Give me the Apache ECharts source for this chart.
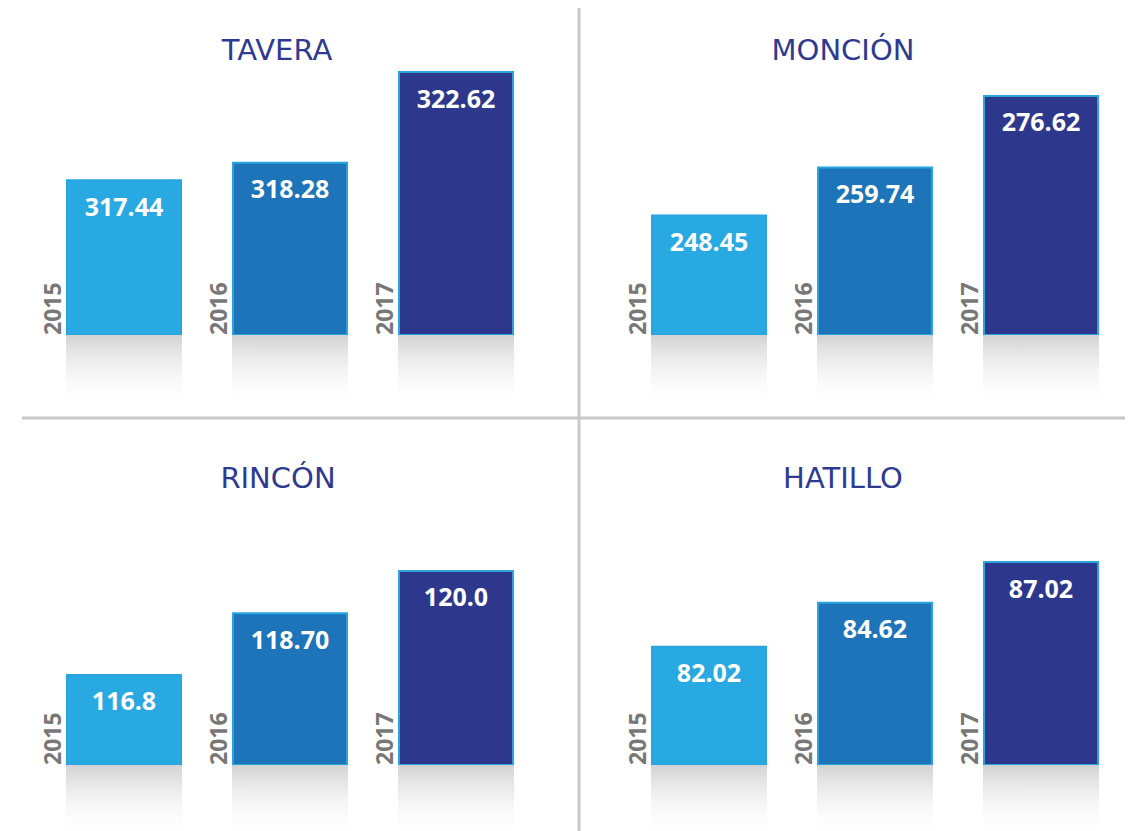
<!DOCTYPE html>
<html>
<head>
<meta charset="utf-8">
<script src="https://cdn.jsdelivr.net/npm/echarts@6/dist/echarts.min.js"></script>
<style>
html,body{margin:0;padding:0;background:#fff;}
#c{width:1128px;height:831px;}
</style>
</head>
<body>
<div id="c"></div>
<script>
const years = ['2015', '2016', '2017'];
const panelTitles = ['TAVERA', 'MONCIÓN', 'RINCÓN', 'HATILLO'];

const taveraValues = [317.44, 318.28, 322.62];
const taveraLabels = ['317.44', '318.28', '322.62'];
const moncionValues = [248.45, 259.74, 276.62];
const moncionLabels = ['248.45', '259.74', '276.62'];
const rinconValues = [116.8, 118.70, 120.0];
const rinconLabels = ['116.8', '118.70', '120.0'];
const hatilloValues = [82.02, 84.62, 87.02];
const hatilloLabels = ['82.02', '84.62', '87.02'];

const seriesValues = [taveraValues, moncionValues, rinconValues, hatilloValues];
const seriesLabels = [taveraLabels, moncionLabels, rinconLabels, hatilloLabels];

// layout / axis ranges (not data)
const layout = [
  { left: 40,  top: 55,  min: 310, max: 323.385, titleX: 277, titleY: 50 },
  { left: 625, top: 55,  min: 220, max: 286.05,  titleX: 843, titleY: 50 },
  { left: 40,  top: 485, min: 114, max: 122.615, titleX: 278, titleY: 478 },
  { left: 625, top: 485, min: 75,  max: 91.5,    titleX: 843, titleY: 478 }
];
const GW = 498, GH = 280, RH = 72;
const barColors = ['#28a9e1', '#1d74b9', '#2d388d'];
const titleColor = '#2e3a90';

const grids = [], xAxes = [], yAxes = [], series = [], graphics = [];

layout.forEach((p, i) => {
  const gi = grids.length;
  grids.push({ left: p.left + 1, top: p.top, width: GW, height: GH, outerBoundsMode: 'none' });
  grids.push({ left: p.left + 1, top: p.top + GH, width: GW, height: RH, outerBoundsMode: 'none' });
  xAxes.push({ type: 'category', gridIndex: gi, data: years, show: false });
  xAxes.push({ type: 'category', gridIndex: gi + 1, data: years, show: false });
  yAxes.push({ type: 'value', gridIndex: gi, min: p.min, max: p.max, show: false });
  yAxes.push({ type: 'value', gridIndex: gi + 1, min: 0, max: 1, inverse: true, show: false });

  const vals = seriesValues[i];
  const labs = seriesLabels[i];

  // main bars with value labels
  series.push({
    type: 'bar', xAxisIndex: gi, yAxisIndex: gi, barWidth: 116, barGap: '-100%',
    silent: true, animation: false,
    data: vals.map((v, k) => ({
      value: v,
      itemStyle: { color: barColors[k], borderColor: '#2aa4de', borderWidth: 2 }
    })),
    label: {
      show: true, position: 'insideTop', distance: 14,
      formatter: (d) => labs[d.dataIndex],
      color: '#ffffff', fontSize: 25, fontWeight: 'bold', fontFamily: 'Open Sans'
    }
  });
  // overlay series carrying the rotated year labels
  series.push({
    type: 'bar', xAxisIndex: gi, yAxisIndex: gi, barWidth: 116, barGap: '-100%',
    silent: true, animation: false,
    data: vals.slice(),
    itemStyle: { color: 'rgba(0,0,0,0)' },
    label: {
      show: true, position: [-14, '100%'], rotate: 90,
      align: 'left', verticalAlign: 'middle',
      formatter: '{b}', color: '#777777', fontSize: 23, fontWeight: 'bold', fontFamily: 'Open Sans'
    }
  });
  // reflection shadow under each bar
  series.push({
    type: 'bar', xAxisIndex: gi + 1, yAxisIndex: gi + 1, barWidth: 116,
    silent: true, animation: false,
    data: vals.map(() => 1),
    itemStyle: {
      color: { type: 'linear', x: 0, y: 0, x2: 0, y2: 1,
        colorStops: [{ offset: 0, color: '#d2d2d2' }, { offset: 1, color: 'rgba(255,255,255,0)' }] }
    }
  });

  graphics.push({
    type: 'text', x: p.titleX, y: p.titleY, silent: true,
    style: { text: panelTitles[i], fill: titleColor, font: '29px "DejaVu Sans"',
      textAlign: 'center', textVerticalAlign: 'middle' }
  });
});

graphics.push({ type: 'line', silent: true, shape: { x1: 579, y1: 8, x2: 579, y2: 831 },
  style: { stroke: '#c8c8c8', lineWidth: 3 } });
graphics.push({ type: 'line', silent: true, shape: { x1: 22, y1: 418, x2: 1125, y2: 418 },
  style: { stroke: '#c8c8c8', lineWidth: 3 } });

const chart = echarts.init(document.getElementById('c'), null, { renderer: 'svg' });
chart.setOption({
  backgroundColor: '#ffffff',
  animation: false,
  grid: grids, xAxis: xAxes, yAxis: yAxes, series: series,
  graphic: graphics
});
</script>
</body>
</html>
